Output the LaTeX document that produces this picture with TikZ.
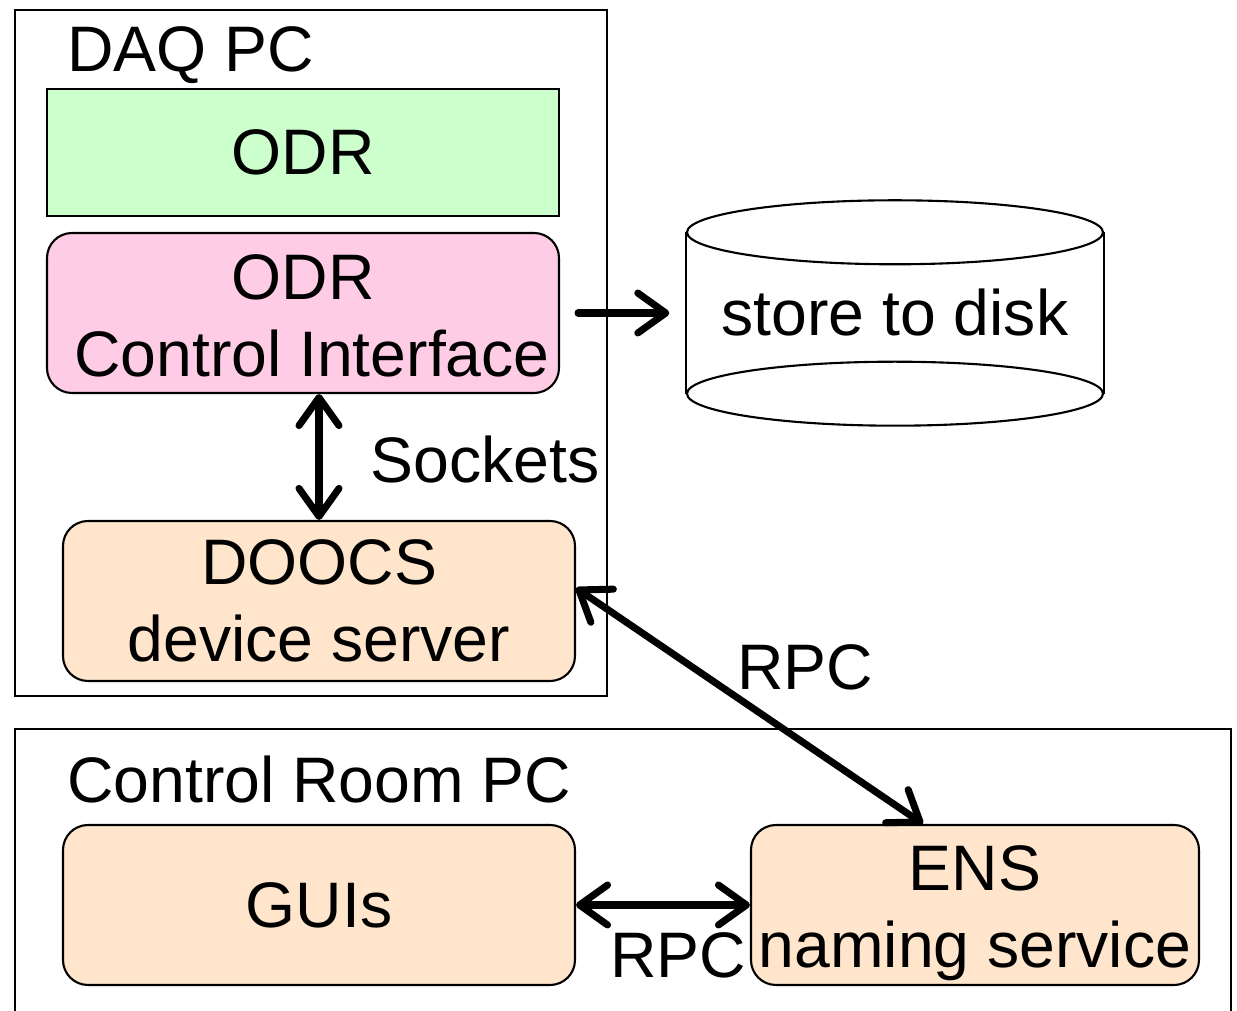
\documentclass[tikz,border=0pt]{standalone}
\usepackage{fontspec}
\setmainfont{Liberation Sans}
\usetikzlibrary{arrows.meta}
\definecolor{odrgreen}{RGB}{204,255,204}
\definecolor{odrpink}{RGB}{255,204,230}
\definecolor{doocspeach}{RGB}{255,229,204}
\tikzset{
  frame/.style={draw, line width=0.6pt},
  box/.style={draw, line width=0.6pt, minimum width=5.12cm, minimum height=1.6cm, align=center, inner sep=0pt},
  rbox/.style={box, rounded corners=0.25cm},
  conn/.style={line width=2pt, line cap=round, line join=round, {Straight Barb[length=2.8mm,width=4mm,round]}-{Straight Barb[length=2.8mm,width=4mm,round]}},
  oneway/.style={line width=2pt, line cap=round, line join=round, -{Straight Barb[length=2.8mm,width=4mm,round]}}
}
\begin{document}
\begin{tikzpicture}[font=\fontsize{18.3}{22}\selectfont]
\useasboundingbox (0,0) rectangle (12.37,-10.11);
\begin{scope}
\clip (0,0) rectangle (12.37,-10.11);
\draw[frame] (0.15,-0.10) rectangle (6.07,-6.96);
\draw[frame] (0.15,-7.29) rectangle (12.31,-10.6);
\end{scope}

\node[anchor=west] (daqtitle) at (0.55,-0.55) {DAQ PC};
\node[anchor=west] (crtitle) at (0.55,-7.80) {Control Room PC};

\node[box, fill=odrgreen, minimum height=1.27cm] (odr) at (3.03,-1.525) {ODR};
\node[rbox, fill=odrpink] (odrci) at (3.03,-3.13) {\rule{0pt}{0.5cm}ODR\\\ Control Interface};
\node[rbox, fill=doocspeach] (doocs) at (3.19,-6.01) {DOOCS\\device server};
\node[rbox, fill=doocspeach] (guis) at (3.19,-9.05) {GUIs};
\node[rbox, fill=doocspeach, minimum width=4.48cm] (ens) at (9.75,-9.05) {\rule{0pt}{0.62cm}ENS\\naming service};

% disk drawn as a cylinder
\node[minimum width=4.16cm, minimum height=1.6cm, inner sep=0pt] (disk) at (8.95,-3.13) {store to disk};
\draw[frame] (disk.north west) -- (disk.south west);
\draw[frame] (disk.north east) -- (disk.south east);
\draw[frame, fill=white] (disk.north) ellipse (2.08 and 0.32);
\draw[frame] (disk.south) ellipse (2.08 and 0.32);

\draw[oneway, shorten <=1.8mm, shorten >=1.7mm] (odrci.east) -- (odrci.east -| disk.west);
\draw[conn] (doocs.north |- odrci.south) -- (doocs.north);
\draw[conn] ([yshift=1.3mm]doocs.east) -- ([xshift=-5.2mm]ens.north);
\draw[conn] (guis.east) -- (ens.west);

\node (sockets) at (4.85,-4.60) {Sockets};
\node (rpcup) at (8.05,-6.67) {RPC};
\node (rpcdown) at (6.78,-9.55) {RPC};
\end{tikzpicture}
\end{document}
